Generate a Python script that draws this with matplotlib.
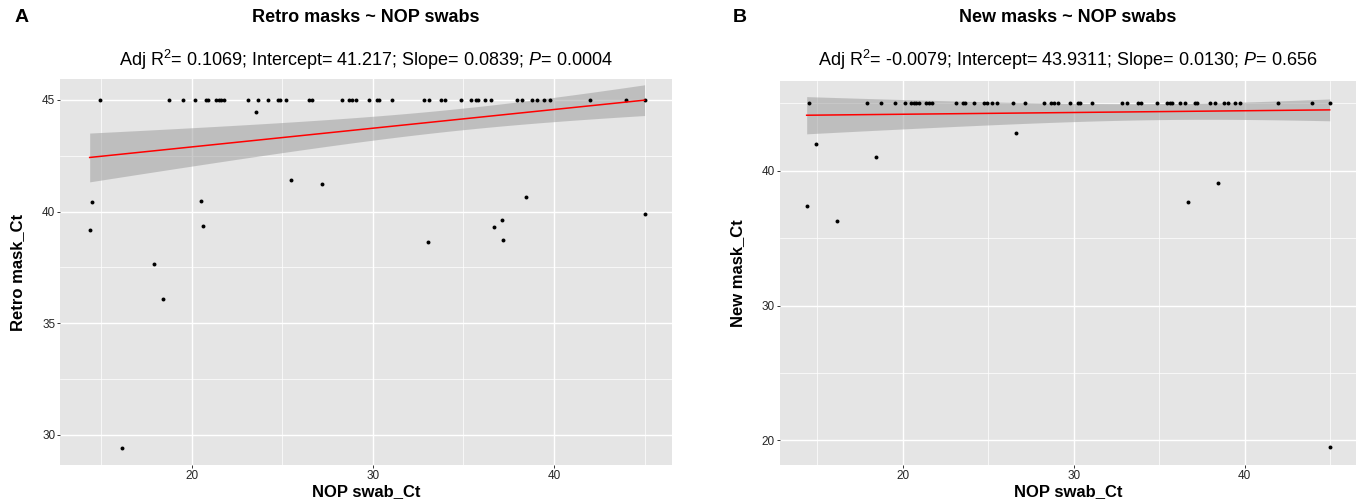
import numpy as np
import matplotlib
matplotlib.use("Agg")
import matplotlib.pyplot as plt
from matplotlib.ticker import FixedLocator

plt.rcParams['font.family'] = ['Liberation Sans', 'DejaVu Sans']
plt.rcParams['mathtext.fontset'] = 'custom'
plt.rcParams['mathtext.rm'] = 'Liberation Sans'
plt.rcParams['mathtext.it'] = 'Liberation Sans:italic'
plt.rcParams['mathtext.bf'] = 'Liberation Sans:bold'

# ---------------- Panel A: Retro masks ~ NOP swabs ----------------
swab_a = [14.97, 18.76, 19.54, 20.17, 20.80, 20.90, 21.37, 21.49, 21.64, 21.79,
          23.14, 23.64, 24.21, 24.78, 24.88, 25.22, 26.48, 26.63, 28.32, 28.67,
          28.84, 29.09, 29.79, 30.23, 30.36, 31.05, 32.84, 33.12, 33.75, 33.96,
          34.88, 35.43, 35.68, 35.79, 36.21, 36.53, 37.94, 38.21, 38.80, 39.05,
          39.43, 39.75, 41.98, 43.96, 44.99,
          23.54, 14.53, 14.38, 20.53, 20.65, 25.49, 27.18, 17.94, 18.44, 33.05,
          36.69, 37.12, 37.20, 38.44, 44.99, 16.19]
retro_mask = [45.0, 45.0, 45.0, 45.0, 45.0, 45.0, 45.0, 45.0, 45.0, 45.0,
              45.0, 45.0, 45.0, 45.0, 45.0, 45.0, 45.0, 45.0, 45.0, 45.0,
              45.0, 45.0, 45.0, 45.0, 45.0, 45.0, 45.0, 45.0, 45.0, 45.0,
              45.0, 45.0, 45.0, 45.0, 45.0, 45.0, 45.0, 45.0, 45.0, 45.0,
              45.0, 45.0, 45.0, 45.0, 45.0,
              44.45, 40.42, 39.15, 40.46, 39.36, 41.41, 41.24, 37.63, 36.08, 38.64,
              39.31, 39.63, 38.74, 40.67, 39.90, 29.42]
# estimated number of samples overplotted at (45, 45)
overlap_a = 34
r2_a, intercept_a, slope_a, p_a = "0.1069", 41.217, 0.0839, "0.0004"
intercept_a_txt, slope_a_txt = "41.217", "0.0839"

# ---------------- Panel B: New masks ~ NOP swabs ----------------
swab_b = [14.52, 17.90, 18.73, 19.54, 20.16, 20.51, 20.65, 20.78, 20.97, 21.38,
          21.54, 21.71, 23.11, 23.50, 23.64, 24.19, 24.77, 24.91, 25.23, 25.51,
          26.47, 27.17, 28.27, 28.69, 28.85, 29.10, 29.77, 30.23, 30.35, 31.06,
          32.83, 33.13, 33.76, 33.94, 34.86, 35.44, 35.65, 35.78, 36.24, 36.52,
          37.10, 37.21, 37.95, 38.25, 38.82, 39.06, 39.45, 39.75, 41.98, 43.94,
          44.98,
          14.95, 14.38, 16.18, 18.43, 26.64, 36.71, 38.46, 44.98]
new_mask = [45.0, 45.0, 45.0, 45.0, 45.0, 45.0, 45.0, 45.0, 45.0, 45.0,
            45.0, 45.0, 45.0, 45.0, 45.0, 45.0, 45.0, 45.0, 45.0, 45.0,
            45.0, 45.0, 45.0, 45.0, 45.0, 45.0, 45.0, 45.0, 45.0, 45.0,
            45.0, 45.0, 45.0, 45.0, 45.0, 45.0, 45.0, 45.0, 45.0, 45.0,
            45.0, 45.0, 45.0, 45.0, 45.0, 45.0, 45.0, 45.0, 45.0, 45.0,
            45.0,
            41.98, 37.41, 36.30, 41.01, 42.79, 37.65, 39.09, 19.51]
overlap_b = 40
r2_b, intercept_b, slope_b, p_b = "-0.0079", 43.9311, 0.0130, "0.656"
intercept_b_txt, slope_b_txt = "43.9311", "0.0130"

T_CRIT = 1.986  # 95% t quantile, df ~ 95

W, H = 1357, 503
fig = plt.figure(figsize=(W / 100, H / 100), dpi=100)
fig.patch.set_facecolor('white')


def px(x, y):
    return x / W, 1 - y / H


def ci_band(x, y, extra, b0, b1, xs):
    X = np.append(np.asarray(x, float), 45.0)
    Y = np.append(np.asarray(y, float), 45.0)
    w = np.append(np.ones(len(x)), extra)
    n = w.sum()
    xbar = (w * X).sum() / n
    sxx = (w * (X - xbar) ** 2).sum()
    res = Y - (b0 + b1 * X)
    s2 = (w * res ** 2).sum() / (n - 2)
    return T_CRIT * np.sqrt(s2 * (1.0 / n + (xs - xbar) ** 2 / sxx))


def panel(rect, x, y, extra, b0, b1, xlim, ylim, ymaj, ymin_, title, sub, ylabel,
          cx, letter, letter_x, ylab_x):
    ax = fig.add_axes(rect)
    ax.set_facecolor('#E5E5E5')
    for s in ax.spines.values():
        s.set_visible(False)
    ax.set_xlim(*xlim)
    ax.set_ylim(*ylim)
    ax.xaxis.set_major_locator(FixedLocator([20, 30, 40]))
    ax.xaxis.set_minor_locator(FixedLocator([15, 25, 35, 45]))
    ax.yaxis.set_major_locator(FixedLocator(ymaj))
    ax.yaxis.set_minor_locator(FixedLocator(ymin_))
    ax.grid(which='major', color='white', lw=1.0, zorder=0)
    ax.grid(which='minor', color='white', lw=0.5, zorder=0)
    ax.set_axisbelow(True)
    ax.tick_params(which='major', length=2.2, width=0.7, color='#333333',
                   labelsize=8.5, labelcolor='#262626', pad=1.5)
    ax.tick_params(which='minor', length=0)

    xs = np.linspace(min(x), max(x), 200)
    yfit = b0 + b1 * xs
    half = ci_band(x, y, extra, b0, b1, xs)
    ax.fill_between(xs, yfit - half, yfit + half, color='#999999', alpha=0.5,
                    linewidth=0, zorder=2)
    ax.scatter(x, y, s=8, color='black', linewidths=0, zorder=3)
    ax.plot(xs, yfit, color='#FF0000', lw=1.1, zorder=4)

    fig.text(*px(cx, 18), title, ha='center', va='center', fontsize=13,
             fontweight='bold')
    fig.text(*px(cx, 60), sub, ha='center', va='center', fontsize=13)
    fig.text(*px(cx, 492), "NOP swab_Ct", ha='center', va='center',
             fontsize=12, fontweight='bold')
    cy = (1 - (rect[1] + rect[3] / 2)) * H
    fig.text(*px(ylab_x, cy), ylabel, ha='center', va='center', rotation=90,
             fontsize=12, fontweight='bold')
    fig.text(*px(letter_x, 18), letter, ha='center', va='center', fontsize=14,
             fontweight='bold')
    return ax


sub_a = (r"Adj R$^{2}$= " + r2_a + "; Intercept= " + intercept_a_txt +
         "; Slope= " + slope_a_txt + r"; $\mathit{P}$= " + p_a)
sub_b = (r"Adj R$^{2}$= " + r2_b + "; Intercept= " + intercept_b_txt +
         "; Slope= " + slope_b_txt + r"; $\mathit{P}$= " + p_b)

panel([60.3 / W, 1 - 465 / H, 612 / W, 386 / H], swab_a, retro_mask, overlap_a,
      intercept_a, slope_a, (12.76, 46.52), (28.64, 45.94),
      [30, 35, 40, 45], [32.5, 37.5, 42.5],
      "Retro masks ~ NOP swabs", sub_a, "Retro mask_Ct", 366, "A", 22, 18)

panel([780 / W, 1 - 464.7 / H, 576 / W, 384 / H], swab_b, new_mask, overlap_b,
      intercept_b, slope_b, (12.82, 46.52), (18.19, 46.68),
      [20, 30, 40], [25, 35, 45],
      "New masks ~ NOP swabs", sub_b, "New mask_Ct", 1068, "B", 740, 738)

fig.savefig("out.png", dpi=100, facecolor='white')
